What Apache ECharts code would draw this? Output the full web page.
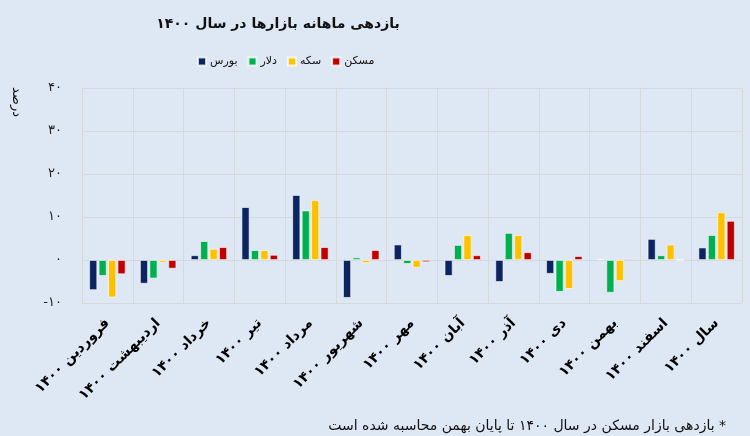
<!DOCTYPE html>
<html>
<head>
<meta charset="utf-8">
<script src="https://cdn.jsdelivr.net/npm/echarts@6/dist/echarts.min.js"></script>
<style>
html,body{margin:0;padding:0;background:#dee8f4;}
#c{width:750px;height:436px;}
</style>
</head>
<body>
<div id="c"></div>
<script>
var categories = ['فروردین ۱۴۰۰','اردیبهشت ۱۴۰۰','خرداد ۱۴۰۰','تیر ۱۴۰۰','مرداد ۱۴۰۰','شهریور ۱۴۰۰','مهر ۱۴۰۰','آبان ۱۴۰۰','آذر ۱۴۰۰','دی ۱۴۰۰','بهمن ۱۴۰۰','اسفند ۱۴۰۰','سال ۱۴۰۰'];
var seriesNames = ['بورس','دلار','سکه','مسکن'];
var bourse = [-7.0, -5.5, 1.1, 12.3, 15.1, -8.8, 3.6, -3.7, -5.1, -3.2, 0.2, 4.9, 2.9];
var dollar = [-3.7, -4.3, 4.4, 2.3, 11.5, 0.6, -0.9, 3.5, 6.3, -7.4, -7.6, 1.1, 5.8];
var coin   = [-8.7, -0.6, 2.6, 2.3, 13.9, -0.7, -1.8, 5.8, 5.8, -6.7, -4.9, 3.6, 11.1];
var maskan = [-3.3, -2.0, 3.0, 1.2, 3.0, 2.3, -0.5, 1.1, 1.8, 0.9, 0.3, 0, 9.1];
var colors = ['#0c2461','#00b050','#ffc000','#c00000'];
var titleText = 'بازدهی ماهانه بازارها در سال ۱۴۰۰';
var yName = 'درصد';
var footnote = 'بازدهی بازار مسکن در سال ۱۴۰۰ تا پایان بهمن محاسبه شده است *';

function fa(n){
  return String(n).replace(/[0-9]/g, function(d){ return '۰۱۲۳۴۵۶۷۸۹'[+d]; });
}
var FONT = 'DejaVu Sans';
var allData = [bourse, dollar, coin, maskan];
var chart = echarts.init(document.getElementById('c'), null, {renderer:'canvas'});
var series = seriesNames.map(function(name, i){
  return {
    name: name,
    type: 'bar',
    data: allData[i],
    barWidth: 8,
    barGap: '18%',
    itemStyle: {color: colors[i], borderColor: 'rgba(255,255,255,0.75)', borderWidth: 0.8},
    emphasis: {disabled: true}
  };
});
chart.setOption({
  backgroundColor: '#dee8f4',
  animation: false,
  textStyle: {fontFamily: FONT},
  title: [{
    text: titleText,
    left: 273,
    top: 12,
    textAlign: 'center',
    textStyle: {fontFamily: FONT, fontSize: 14, fontWeight: 'bold', color: '#111'}
  },{
    text: footnote,
    right: 19,
    top: 414,
    textStyle: {fontFamily: FONT, fontSize: 14, fontWeight: 'normal', color: '#111'}
  }],
  legend: {
    data: seriesNames,
    left: 192,
    top: 51,
    itemWidth: 8,
    itemHeight: 8,
    itemGap: 10,
    icon: 'rect',
    textStyle: {fontFamily: FONT, fontSize: 11, color: '#111', padding: [0,0,0,-1]}
  },
  graphic: [{
    type: 'text',
    x: 16,
    y: 102,
    rotation: -Math.PI / 2,
    style: {text: yName, font: '13px "DejaVu Sans"', fill: '#111', align: 'center', verticalAlign: 'middle'}
  }],
  grid: {left: 82, right: 8, top: 88, bottom: 133, containLabel: false},
  xAxis: {
    type: 'category',
    data: categories,
    axisLine: {show: false},
    axisTick: {show: false},
    splitLine: {show: true, lineStyle: {color: '#d6d9dc', width: 1}},
    axisLabel: {rotate: 45, margin: 18, interval: 0, fontFamily: FONT, fontSize: 14, fontWeight: 'bold', color: '#000'}
  },
  yAxis: {
    type: 'value',
    min: -10,
    max: 40,
    interval: 10,
    axisLine: {show: false},
    axisTick: {show: false},
    splitLine: {show: true, lineStyle: {color: '#d6d9dc', width: 1}},
    axisLabel: {margin: 20, fontFamily: FONT, fontSize: 13, color: '#222', formatter: function(v){ return fa(v); }}
  },
  series: series
});
</script>
</body>
</html>
